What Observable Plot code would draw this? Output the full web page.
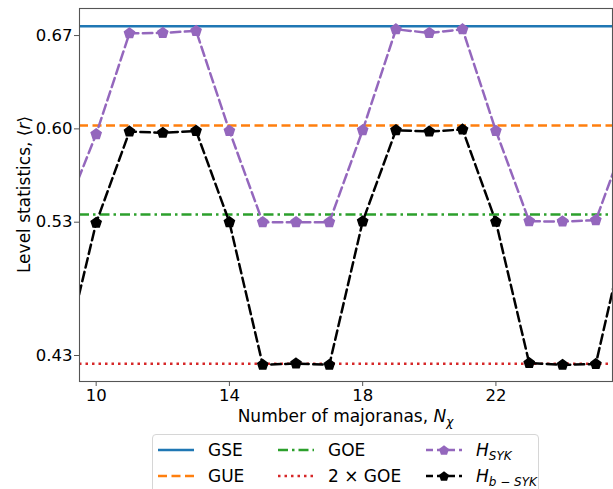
<!DOCTYPE html>
<html>
<head>
<meta charset="utf-8">
<script src="https://cdn.jsdelivr.net/npm/d3@7"></script>
<script src="https://cdn.jsdelivr.net/npm/@observablehq/plot@0.6"></script>
<style>
  body { margin: 0; background: white; font-family: "DejaVu Sans", sans-serif; }
  #wrap { position: relative; width: 613px; height: 489px; overflow: hidden; background: white; }
  #legend { position: absolute; left: 152px; top: 434px; width: 387px; height: 70px;
            border: 1px solid #d6d6d6; border-radius: 4px; background: white; box-sizing: border-box; }
  .item { position: absolute; height: 24px; display: flex; align-items: center; font-size: 17px; color: #000; white-space: nowrap; }
  .item svg { margin-right: 14px; }
</style>
</head>
<body>
<div id="wrap"></div>
<script>
// ---- data ----
const majoranas = [9, 10, 11, 12, 13, 14, 15, 16, 17, 18, 19, 20, 21, 22, 23, 24, 25, 26];
const hSYK  = [0.533, 0.596, 0.6717, 0.672, 0.6735, 0.5985, 0.530, 0.530, 0.530, 0.599, 0.6747, 0.672, 0.6747, 0.5985, 0.5307, 0.5305, 0.5315, 0.600];
const hbSYK = [0.4245, 0.5295, 0.598, 0.597, 0.5985, 0.530, 0.423, 0.424, 0.423, 0.5305, 0.599, 0.598, 0.5995, 0.5303, 0.4243, 0.423, 0.4236, 0.533];
const refNames  = ["GSE", "GUE", "GOE", "2xGOE"];
const refValues = [0.677, 0.6025, 0.5358, 0.4238];
const xTicks = [10, 14, 18, 22];
const yTicks = [0.43, 0.53, 0.60, 0.67];

const colors = {GSE: "#1f77b4", GUE: "#ff7f0e", GOE: "#2ca02c", "2xGOE": "#d62728", SYK: "#9467bd", bSYK: "#000000"};
const dashes = {GSE: null, GUE: "9,4.5", GOE: "10,4,2.5,4", "2xGOE": "2.5,4", SYK: "9.5,4.5", bSYK: "9.5,4.5"};

const sykData  = majoranas.map((n, i) => ({n, r: hSYK[i]}));
const bsykData = majoranas.map((n, i) => ({n, r: hbSYK[i]}));

const pentagon = {
  draw(ctx, size) {
    const R = Math.sqrt(size / Math.PI) * 1.05;
    for (let k = 0; k < 5; k++) {
      const a = 2 * Math.PI * k / 5;
      const x = R * Math.sin(a), y = -R * Math.cos(a);
      if (k) ctx.lineTo(x, y); else ctx.moveTo(x, y);
    }
    ctx.closePath();
  }
};

const refMarks = refNames.map((name, i) =>
  Plot.ruleY([refValues[i]], {stroke: colors[name], strokeWidth: 2.5, strokeDasharray: dashes[name], clip: true})
);

const chart = Plot.plot({
  width: 613, height: 432,
  marginLeft: 79, marginRight: 1, marginTop: 8, marginBottom: 51,
  style: {fontFamily: "DejaVu Sans", fontSize: "16.5px", color: "#000", background: "white"},
  x: {domain: [9.5, 25.5]},
  y: {domain: [0.4105, 0.6903]},
  marks: [
    ...refMarks,
    Plot.line(sykData, {x: "n", y: "r", stroke: colors.SYK, strokeWidth: 2.5, strokeDasharray: dashes.SYK, clip: true}),
    Plot.dot(sykData, {x: "n", y: "r", symbol: pentagon, r: 5, fill: colors.SYK, stroke: colors.SYK, clip: true}),
    Plot.line(bsykData, {x: "n", y: "r", stroke: colors.bSYK, strokeWidth: 2.5, strokeDasharray: dashes.bSYK, clip: true}),
    Plot.dot(bsykData, {x: "n", y: "r", symbol: pentagon, r: 5, fill: colors.bSYK, stroke: colors.bSYK, clip: true}),
    Plot.frame({stroke: "#555", strokeWidth: 1.1}),
    Plot.axisX({ticks: xTicks, tickSize: 5, tickPadding: 3, tickFormat: d => String(d), label: null, stroke: "#555"}),
    Plot.axisY({ticks: yTicks, tickSize: 5, tickPadding: 2, tickFormat: d3.format(".2f"), label: null, stroke: "#555"})
  ]
});

document.getElementById("wrap").appendChild(chart);

// axis labels with italic / subscript parts
const svg = d3.select(chart);
const yl = svg.append("text")
  .attr("transform", "translate(29.5,194.5) rotate(-90)")
  .attr("text-anchor", "middle").attr("font-size", 17).attr("fill", "#000");
yl.append("tspan").text("Level statistics, \u27E8");
yl.append("tspan").attr("font-style", "italic").text("r");
yl.append("tspan").text("\u27E9");

const xl = svg.append("text")
  .attr("x", 345.5).attr("y", 422)
  .attr("text-anchor", "middle").attr("font-size", 17).attr("fill", "#000");
xl.append("tspan").text("Number of majoranas, ");
xl.append("tspan").attr("font-style", "italic").text("N");
xl.append("tspan").attr("font-style", "italic").attr("font-size", 12).attr("dy", 4).text("\u03C7");

// legend
const legend = d3.select("#wrap").append("div").attr("id", "legend");
const entries = [
  {key: "GSE", left: 5, top: 3, label: [["GSE"]]},
  {key: "GUE", left: 5, top: 29, label: [["GUE"]]},
  {key: "GOE", left: 125, top: 3, label: [["GOE"]]},
  {key: "2xGOE", left: 125, top: 29, label: [["2 \u00D7 GOE"]]},
  {key: "SYK", left: 273, top: 3, marker: true, label: [["H", "i"], ["SYK", "sub"]]},
  {key: "bSYK", left: 273, top: 29, marker: true, label: [["H", "i"], ["b \u2212 SYK", "sub"]]}
];
for (const e of entries) {
  const item = legend.append("div").attr("class", "item").style("left", e.left + "px").style("top", e.top + "px");
  const s = item.append("svg").attr("width", 36).attr("height", 14);
  s.append("line").attr("x1", 0).attr("x2", 36).attr("y1", 7).attr("y2", 7)
    .attr("stroke", colors[e.key]).attr("stroke-width", 2.5)
    .attr("stroke-dasharray", e.key === "SYK" || e.key === "bSYK" ? "7,4" : dashes[e.key]);
  if (e.marker) {
    const p = d3.path(); pentagon.draw(p, 25 * Math.PI);
    s.append("path").attr("d", p.toString()).attr("transform", "translate(18,7.5)").attr("fill", colors[e.key]);
  }
  const t = item.append("span");
  for (const [txt, st] of e.label) {
    const sp = t.append("span").text(txt);
    if (st === "i") sp.style("font-style", "italic");
    if (st === "sub") sp.style("font-style", "italic").style("font-size", "12px").style("position", "relative").style("top", "4px");
  }
}
</script>
</body>
</html>
